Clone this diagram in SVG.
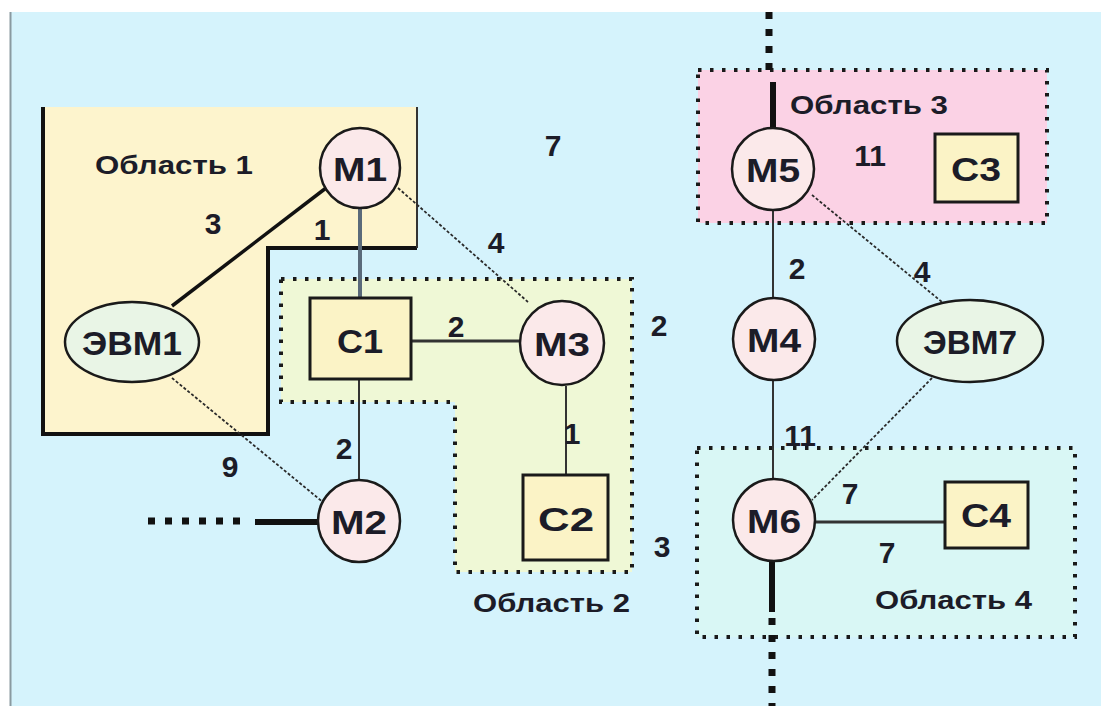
<svg xmlns="http://www.w3.org/2000/svg" width="1101" height="706" viewBox="0 0 1101 706">
<style>
text{font-family:"Liberation Sans",Arial,sans-serif;font-weight:bold;fill:#1c1c28}
.lbl{font-size:26px}
.num{font-size:30px;text-anchor:middle}
.nd{font-size:34px;text-anchor:middle}
.circ{fill:#fbe9ea;stroke:#1a1a1a;stroke-width:2.5}
.ell{fill:#e9f5e6;stroke:#1a1a1a;stroke-width:2.5}
.box{fill:#fbf3c6;stroke:#1a1a1a;stroke-width:3}
.area{stroke:#1a1a1a;stroke-width:4;stroke-dasharray:3.5 8.5}
.thin{stroke:#333;stroke-width:2;fill:none}
.dash{stroke:#2a2a2a;stroke-width:1.8;stroke-dasharray:3 2;fill:none}
.thick{stroke:#111;stroke-width:6;fill:none}
.sq{stroke:#111;stroke-width:7;stroke-dasharray:7 10;fill:none}
</style>
<rect x="0" y="0" width="1101" height="706" fill="#ffffff"/>
<rect x="11" y="12" width="1090" height="694" fill="#d5f3fc"/>
<line x1="10.5" y1="12" x2="10.5" y2="706" stroke="#8a9aa0" stroke-width="2"/>

<g id="area1">
<polygon points="43,107 417,107 417,248 268,248 268,434 43,434" fill="#fdf4cd"/>
<polyline points="43,107 43,434 268,434 268,248 417,248" fill="none" stroke="#111" stroke-width="4"/>
<line x1="417" y1="107" x2="417" y2="248" stroke="#333" stroke-width="2"/>
<text class="lbl" x="95" y="174" textLength="158" lengthAdjust="spacingAndGlyphs">Область 1</text>
</g>
<g id="area2">
<polygon class="area" points="281,279 632,279 632,572 455,572 455,402 281,402" fill="#eff8d6"/>
<text class="lbl" x="473" y="612" textLength="157" lengthAdjust="spacingAndGlyphs">Область 2</text>
</g>
<g id="area3">
<rect class="area" x="698" y="70" width="349" height="153" fill="#fbd2e5"/>
<text class="lbl" x="790" y="114" textLength="158" lengthAdjust="spacingAndGlyphs">Область 3</text>
</g>
<g id="area4">
<rect class="area" x="697" y="448" width="378" height="189" fill="#d9f7f5"/>
<text class="lbl" x="875" y="609" textLength="157" lengthAdjust="spacingAndGlyphs">Область 4</text>
</g>

<g id="connectors">
<line class="thin" style="stroke-width:3.5;stroke:#111" x1="326" y1="188" x2="172" y2="306"/>
<line x1="360" y1="209" x2="360" y2="298" stroke="#5a6a7a" stroke-width="4"/>
<line class="dash" x1="398" y1="188" x2="528" y2="302"/>
<line class="thin" style="stroke-width:2.8" x1="411" y1="341" x2="520" y2="341"/>
<line class="thin" x1="359" y1="379" x2="359" y2="480"/>
<line class="dash" x1="172" y1="378" x2="324" y2="503"/>
<line class="thin" x1="566" y1="386" x2="566" y2="475"/>
<line class="thick" x1="255" y1="522" x2="318" y2="522"/>
<line class="sq" x1="148" y1="521" x2="250" y2="521"/>
<line class="sq" x1="769" y1="12" x2="769" y2="70"/>
<line class="thick" x1="773" y1="82" x2="773" y2="128"/>
<line class="thin" x1="773" y1="210" x2="773" y2="298"/>
<line class="dash" x1="812" y1="195" x2="942" y2="302"/>
<line class="thin" x1="773" y1="380" x2="773" y2="480"/>
<line class="dash" x1="932" y1="378" x2="812" y2="500"/>
<line class="thin" style="stroke-width:2.8" x1="815" y1="522" x2="945" y2="522"/>
<line class="thick" x1="772" y1="560" x2="772" y2="612"/>
<line class="sq" x1="772" y1="618" x2="772" y2="706"/>
</g>

<g id="labels">
<text class="num" x="213" y="234">3</text>
<text class="num" x="322" y="240">1</text>
<text class="num" x="496" y="253">4</text>
<text class="num" x="553" y="156">7</text>
<text class="num" x="456" y="337">2</text>
<text class="num" x="659" y="336">2</text>
<text class="num" x="572" y="444">1</text>
<text class="num" x="344" y="459">2</text>
<text class="num" x="230" y="477">9</text>
<text class="num" x="662" y="557">3</text>
<text class="num" x="870" y="166">11</text>
<text class="num" x="797" y="279">2</text>
<text class="num" x="922" y="282">4</text>
<text class="num" x="800" y="446">11</text>
<text class="num" x="850" y="504">7</text>
<text class="num" x="887" y="563">7</text>
</g>

<g id="M1"><circle class="circ" cx="360" cy="168" r="40"/><text class="nd" x="360" y="181" textLength="54" lengthAdjust="spacingAndGlyphs">М1</text></g>
<g id="EVM1"><ellipse class="ell" cx="132" cy="342" rx="67" ry="40"/><text class="nd" x="132" y="355" textLength="100" lengthAdjust="spacingAndGlyphs">ЭВМ1</text></g>
<g id="C1"><rect class="box" x="310" y="298" width="101" height="81"/><text class="nd" x="360" y="353" textLength="46" lengthAdjust="spacingAndGlyphs">С1</text></g>
<g id="M3"><circle class="circ" cx="562" cy="343" r="42"/><text class="nd" x="562" y="356" textLength="56" lengthAdjust="spacingAndGlyphs">М3</text></g>
<g id="M2"><circle class="circ" cx="359" cy="521" r="41"/><text class="nd" x="359" y="534" textLength="56" lengthAdjust="spacingAndGlyphs">М2</text></g>
<g id="C2"><rect class="box" x="523" y="475" width="85" height="85"/><text class="nd" x="566" y="531" textLength="56" lengthAdjust="spacingAndGlyphs">С2</text></g>
<g id="M5"><circle class="circ" cx="773" cy="169" r="41"/><text class="nd" x="773" y="182" textLength="54" lengthAdjust="spacingAndGlyphs">М5</text></g>
<g id="C3"><rect class="box" x="935" y="134" width="83" height="68"/><text class="nd" x="976" y="181" textLength="50" lengthAdjust="spacingAndGlyphs">С3</text></g>
<g id="M4"><circle class="circ" cx="774" cy="339" r="41"/><text class="nd" x="774" y="352" textLength="54" lengthAdjust="spacingAndGlyphs">М4</text></g>
<g id="EVM7"><ellipse class="ell" cx="970" cy="341" rx="73" ry="41"/><text class="nd" x="970" y="354" textLength="94" lengthAdjust="spacingAndGlyphs">ЭВМ7</text></g>
<g id="M6"><circle class="circ" cx="774" cy="520" r="41"/><text class="nd" x="774" y="533" textLength="54" lengthAdjust="spacingAndGlyphs">М6</text></g>
<g id="C4"><rect class="box" x="945" y="482" width="83" height="66"/><text class="nd" x="986" y="527" textLength="50" lengthAdjust="spacingAndGlyphs">С4</text></g>
</svg>
